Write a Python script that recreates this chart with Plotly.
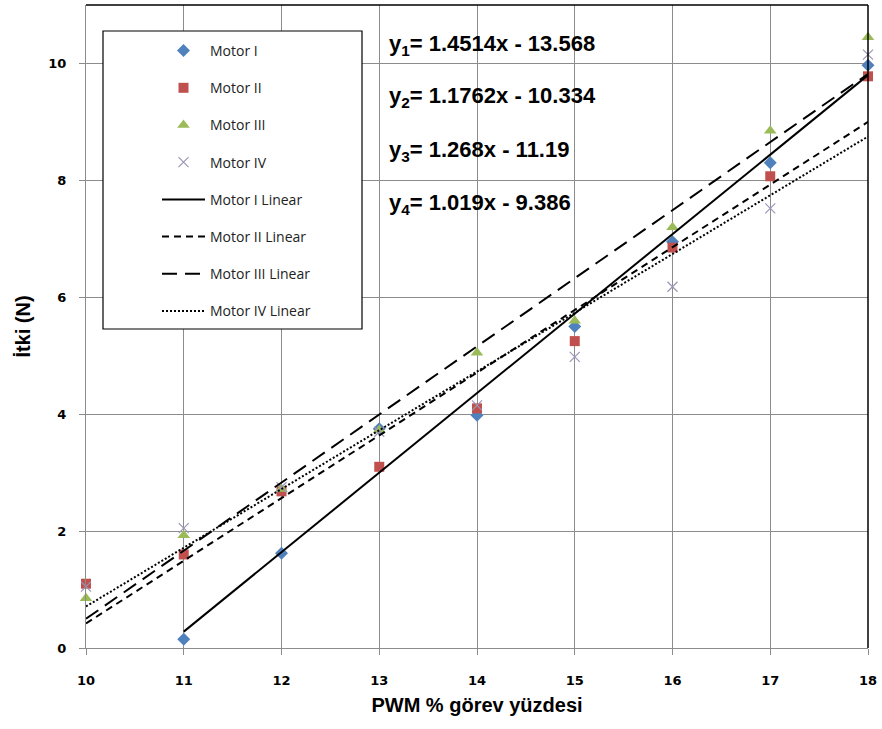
import plotly.graph_objects as go

# ---- data ----
pwm = [10, 11, 12, 13, 14, 15, 16, 17, 18]
motor1_x = [11, 12, 13, 14, 15, 16, 17, 18]
motor1 = [0.15, 1.62, 3.75, 3.98, 5.50, 6.95, 8.30, 9.97]
motor2 = [1.10, 1.60, 2.68, 3.10, 4.10, 5.25, 6.85, 8.07, 9.78]
motor3 = [0.85, 1.93, 2.72, 3.73, 5.05, 5.60, 7.20, 8.85, 10.45]
motor4 = [1.05, 2.05, 2.75, 3.70, 4.15, 4.98, 6.18, 7.52, 10.15]

# linear trend lines: (start x, end x) and values read at those ends
trend1_x = [11, 18]
trend1_y = [0.28, 9.80]
trend2_x = [10, 18]
trend2_y = [0.42, 9.00]
trend3_x = [10, 18]
trend3_y = [0.50, 9.82]
trend4_x = [10, 18]
trend4_y = [0.71, 8.75]

equations = [
    "y<sub>1</sub>= 1.4514x - 13.568",
    "y<sub>2</sub>= 1.1762x - 10.334",
    "y<sub>3</sub>= 1.268x - 11.19",
    "y<sub>4</sub>= 1.019x - 9.386",
]
x_ticks = [10, 11, 12, 13, 14, 15, 16, 17, 18]
y_ticks = [0, 2, 4, 6, 8, 10]

BLUE = "#4F81BD"
RED = "#C0504D"
GREEN = "#9BBB59"
GREY = "#9C94B8"

fig = go.Figure()

def add_points(name, x, y, symbol, color, size, gid):
    fig.add_trace(go.Scatter(
        x=x, y=y, mode="markers", name=name, cliponaxis=False,
        legendgroup=gid,
        marker=dict(symbol=symbol, size=size, color=color,
                    line=dict(width=1.2 if "x" in symbol else 0, color=color)),
    ))

add_points("Motor I", motor1_x, motor1, "diamond", BLUE, 10, "g1")
add_points("Motor II", pwm, motor2, "square", RED, 10, "g2")
add_points("Motor III", pwm, motor3, "triangle-up", GREEN, 11, "g3")
add_points("Motor IV", pwm, motor4, "x-thin-open", GREY, 10, "g4")

def add_trend(name, x, y, dash, gid):
    fig.add_trace(go.Scatter(
        x=x, y=y, mode="lines", name=name, legendgroup=gid,
        line=dict(color="black", width=2, dash=dash),
    ))

add_trend("Motor I Linear", trend1_x, trend1_y, "solid", "g5")
add_trend("Motor II Linear", trend2_x, trend2_y, "7px,5px", "g6")
add_trend("Motor III Linear", trend3_x, trend3_y, "15px,8px", "g7")
add_trend("Motor IV Linear", trend4_x, trend4_y, "2px,2px", "g8")

# equations
eq_y = [10.32, 9.42, 8.51, 7.59]
for txt, yy in zip(equations, eq_y):
    fig.add_annotation(
        x=(387 - 86) / 782, xref="paper", y=yy, yref="y", text=txt, showarrow=False,
        xanchor="left", yanchor="middle",
        font=dict(family="Liberation Sans, Arial", size=22, color="black", weight="bold"),
    )

# legend frame
fig.add_shape(type="rect", xref="paper", yref="paper",
              x0=(103 - 86) / 782, x1=(362 - 86) / 782,
              y0=(648 - 329) / 643, y1=(648 - 31) / 643,
              line=dict(color="black", width=1.2), fillcolor="white", layer="above")
# black frame top and right
fig.add_shape(type="line", xref="paper", yref="paper", x0=0, x1=1, y0=1, y1=1,
              line=dict(color="black", width=1.5))
fig.add_shape(type="line", xref="paper", yref="paper", x0=1, x1=1, y0=0, y1=1,
              line=dict(color="black", width=1.5))

tickfont = dict(family="DejaVu Sans", size=13, color="black", weight="bold")

fig.update_layout(
    width=882, height=729,
    margin=dict(l=86, r=14, t=5, b=81),
    paper_bgcolor="white", plot_bgcolor="white",
    showlegend=True,
    legend=dict(
        x=(157 - 86) / 782, y=(648 - 35) / 643, xanchor="left", yanchor="top",
        bgcolor="rgba(0,0,0,0)", borderwidth=0,
        font=dict(family="Open Sans", size=14, color="#222"),
        itemwidth=43, traceorder="grouped", tracegroupgap=16,
    ),
    xaxis=dict(
        range=[10, 18], tickvals=x_ticks, ticktext=[str(v) for v in x_ticks],
        showgrid=True, gridcolor="#8c8c8c", gridwidth=1,
        showline=True, linecolor="#8c8c8c", linewidth=1,
        ticks="outside", ticklen=6, tickcolor="#8c8c8c",
        ticklabelstandoff=14,
        tickfont=tickfont, zeroline=False,
        title=dict(text="PWM % görev yüzdesi", standoff=11,
                   font=dict(family="Liberation Sans, Arial", size=20, color="black", weight="bold")),
    ),
    yaxis=dict(
        range=[0, 11], tickvals=y_ticks, ticktext=[str(v) for v in y_ticks],
        showgrid=True, gridcolor="#8c8c8c", gridwidth=1,
        showline=True, linecolor="#8c8c8c", linewidth=1,
        ticks="outside", ticklen=6, tickcolor="#8c8c8c",
        ticklabelstandoff=10,
        tickfont=tickfont, zeroline=False,
        title=dict(text="İtki (N)", standoff=12,
                   font=dict(family="Liberation Sans, Arial", size=20, color="black", weight="bold")),
    ),
)

fig.write_html("out.html", config={"displayModeBar": False},
               post_script="document.body.style.margin='0';")
